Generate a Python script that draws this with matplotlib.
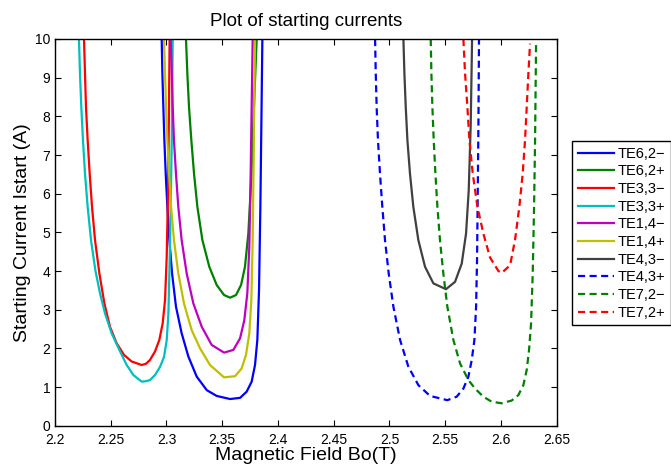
import matplotlib
matplotlib.use("Agg")
import matplotlib.pyplot as plt

plt.rcParams['font.family'] = ['Liberation Sans', 'DejaVu Sans']

# starting current curves, each read from the left branch through the minimum to the right branch
te62m_x = [2.2957, 2.2963, 2.2972, 2.2981, 2.2993, 2.3008, 2.3026, 2.3050, 2.3085, 2.3136, 2.3196,
           2.3271, 2.3361, 2.3450, 2.3570, 2.3660, 2.3719, 2.3764, 2.3794, 2.3815, 2.3830, 2.3842,
           2.3851, 2.3860]
te62m_y = [10, 9.11, 8.24, 7.38, 6.52, 5.66, 4.80, 3.94, 3.08, 2.39, 1.79, 1.27, 0.92, 0.77, 0.69,
           0.72, 0.88, 1.14, 1.57, 2.22, 3.51, 5.66, 7.81, 10]

te62p_x = [2.3175, 2.3187, 2.3202, 2.3223, 2.3247, 2.3277, 2.3322, 2.3384, 2.3450, 2.3516, 2.3570,
           2.3624, 2.3669, 2.3704, 2.3734, 2.3760, 2.3782, 2.3809]
te62p_y = [10, 9.11, 8.24, 7.38, 6.52, 5.66, 4.80, 4.11, 3.64, 3.38, 3.31, 3.38, 3.64, 4.11, 4.97,
           6.35, 8.07, 10]

te33m_x = [2.2260, 2.2269, 2.2278, 2.2293, 2.2311, 2.2332, 2.2359, 2.2398, 2.2443, 2.2493, 2.2553,
           2.2619, 2.2688, 2.2777, 2.2815, 2.2852, 2.2897, 2.2936, 2.2966, 2.2987, 2.3002, 2.3014,
           2.3021, 2.3028]
te33m_y = [10, 9.11, 8.24, 7.38, 6.52, 5.66, 4.80, 3.94, 3.16, 2.56, 2.13, 1.83, 1.66, 1.57, 1.60,
           1.70, 1.92, 2.22, 2.65, 3.25, 4.37, 6.09, 7.81, 10]

te33p_x = [2.2215, 2.2224, 2.2236, 2.2251, 2.2269, 2.2293, 2.2323, 2.2362, 2.2404, 2.2449, 2.2508,
           2.2577, 2.2643, 2.2703, 2.2777, 2.2815, 2.2852, 2.2897, 2.2942, 2.2978, 2.3002, 2.3017,
           2.3026, 2.3038, 2.3047, 2.3056]
te33p_y = [10, 9.11, 8.24, 7.38, 6.52, 5.66, 4.80, 4.02, 3.42, 2.90, 2.39, 1.96, 1.57, 1.31, 1.14,
           1.15, 1.18, 1.31, 1.52, 1.78, 2.21, 2.90, 3.94, 5.66, 7.38, 10]

te14m_x = [2.3038, 2.3047, 2.3056, 2.3067, 2.3085, 2.3106, 2.3136, 2.3181, 2.3241, 2.3316, 2.3405,
           2.3516, 2.3600, 2.3660, 2.3698, 2.3725, 2.3743, 2.3755, 2.3764, 2.3773]
te14m_y = [10, 9.11, 8.24, 7.38, 6.52, 5.66, 4.80, 3.94, 3.16, 2.56, 2.09, 1.89, 1.96, 2.26, 2.73,
           3.42, 4.63, 6.52, 8.24, 10]

te14p_x = [2.2978, 2.2987, 2.2996, 2.3008, 2.3023, 2.3041, 2.3067, 2.3106, 2.3157, 2.3226, 2.3301,
           2.3390, 2.3516, 2.3615, 2.3674, 2.3713, 2.3743, 2.3761, 2.3773, 2.3782, 2.3794]
te14p_y = [10, 9.11, 8.24, 7.38, 6.52, 5.66, 4.80, 3.94, 3.16, 2.47, 2.0, 1.57, 1.25, 1.28, 1.48,
           1.83, 2.39, 3.25, 4.80, 6.95, 10]

te43m_x = [2.5125, 2.5134, 2.5146, 2.5161, 2.5184, 2.5214, 2.5259, 2.5319, 2.5394, 2.5507, 2.5588,
           2.5648, 2.5687, 2.5711, 2.5729, 2.5741]
te43m_y = [10, 9.11, 8.24, 7.38, 6.52, 5.66, 4.80, 4.11, 3.68, 3.53, 3.72, 4.19, 4.97, 6.09, 7.81,
           10]

te43p_x = [2.4871, 2.4877, 2.4885, 2.4897, 2.4915, 2.4936, 2.4960, 2.4993, 2.5035, 2.5095, 2.5169,
           2.5259, 2.5364, 2.5519, 2.5603, 2.5663, 2.5708, 2.5738, 2.5762, 2.5777, 2.5786, 2.5792,
           2.5798, 2.5803]
te43p_y = [10, 9.11, 8.24, 7.38, 6.52, 5.66, 4.80, 3.94, 3.08, 2.22, 1.53, 1.05, 0.77, 0.66, 0.75,
           0.96, 1.27, 1.70, 2.22, 3.08, 4.37, 6.09, 7.81, 10]

te72m_x = [2.5370, 2.5376, 2.5385, 2.5397, 2.5412, 2.5430, 2.5453, 2.5483, 2.5519, 2.5573, 2.5633,
           2.5708, 2.5768, 2.5842, 2.5917, 2.6007, 2.6096, 2.6156, 2.6201, 2.6231, 2.6252, 2.6270,
           2.6285, 2.6297, 2.6306, 2.6315]
te72m_y = [10, 9.11, 8.24, 7.38, 6.52, 5.66, 4.80, 3.94, 3.08, 2.22, 1.61, 1.18, 0.96, 0.75, 0.62,
           0.58, 0.65, 0.79, 1.05, 1.44, 1.96, 2.64, 3.94, 5.66, 7.38, 9.9]

te72p_x = [2.5663, 2.5678, 2.5699, 2.5717, 2.5747, 2.5789, 2.5842, 2.5902, 2.5977, 2.6007, 2.6082,
           2.6126, 2.6165, 2.6195, 2.6216, 2.6231, 2.6246, 2.6261]
te72p_y = [10, 9.11, 8.24, 7.38, 6.52, 5.66, 4.97, 4.35, 4.0, 3.95, 4.15, 4.80, 5.66, 6.52, 7.38,
           8.24, 9.11, 9.88]

labels = ['TE6,2\u2212', 'TE6,2+', 'TE3,3\u2212', 'TE3,3+', 'TE1,4\u2212', 'TE1,4+',
          'TE4,3\u2212', 'TE4,3+', 'TE7,2\u2212', 'TE7,2+']

x_ticks = [2.2, 2.25, 2.3, 2.35, 2.4, 2.45, 2.5, 2.55, 2.6, 2.65]
x_ticklabels = ['2.2', '2.25', '2.3', '2.35', '2.4', '2.45', '2.5', '2.55', '2.6', '2.65']
y_ticks = [0, 1, 2, 3, 4, 5, 6, 7, 8, 9, 10]

fig = plt.figure(figsize=(6.71, 4.66), dpi=100)
ax = fig.add_axes([55 / 671, 1 - 425.7 / 466, (556.7 - 55) / 671, (425.7 - 39) / 466])

curves = [
    (te62m_x, te62m_y, (0, 0, 1), '-'),
    (te62p_x, te62p_y, (0, 0.5, 0), '-'),
    (te33m_x, te33m_y, (1, 0, 0), '-'),
    (te33p_x, te33p_y, (0, 0.75, 0.75), '-'),
    (te14m_x, te14m_y, (0.75, 0, 0.75), '-'),
    (te14p_x, te14p_y, (0.75, 0.75, 0), '-'),
    (te43m_x, te43m_y, (0.25, 0.25, 0.25), '-'),
    (te43p_x, te43p_y, (0, 0, 1), '--'),
    (te72m_x, te72m_y, (0, 0.5, 0), '--'),
    (te72p_x, te72p_y, (1, 0, 0), '--'),
]

for (xs, ys, col, ls), lab in zip(curves, labels):
    line, = ax.plot(xs, ys, color=col, linestyle=ls, linewidth=1.6, label=lab)
    if ls == '--':
        line.set_dashes((3.2, 2.0))

ax.set_xlim(2.2, 2.65)
ax.set_ylim(0, 10)
ax.set_xticks(x_ticks)
ax.set_xticklabels(x_ticklabels)
ax.set_yticks(y_ticks)
ax.tick_params(direction='in', top=True, right=True, length=4, width=0.8, labelsize=10)
ax.tick_params(axis='x', pad=5)
ax.tick_params(axis='y', pad=3.5)
for sp in ax.spines.values():
    sp.set_linewidth(1.0)

ax.set_title('Plot of starting currents', fontsize=13.5, pad=9)
ax.set_xlabel('Magnetic Field Bo(T)', fontsize=14, labelpad=0)
ax.set_ylabel('Starting Current Istart (A)', fontsize=14, labelpad=3)

leg = ax.legend(loc='upper left', bbox_to_anchor=(572 / 671, 1 - 141 / 466),
                bbox_transform=fig.transFigure, borderaxespad=0, fontsize=10.5,
                handlelength=2.45, labelspacing=0.25, handletextpad=0.3,
                borderpad=0.4, fancybox=False, framealpha=1)
leg.get_frame().set_edgecolor('black')
leg.get_frame().set_linewidth(1.0)

fig.savefig('out.png', dpi=100)
